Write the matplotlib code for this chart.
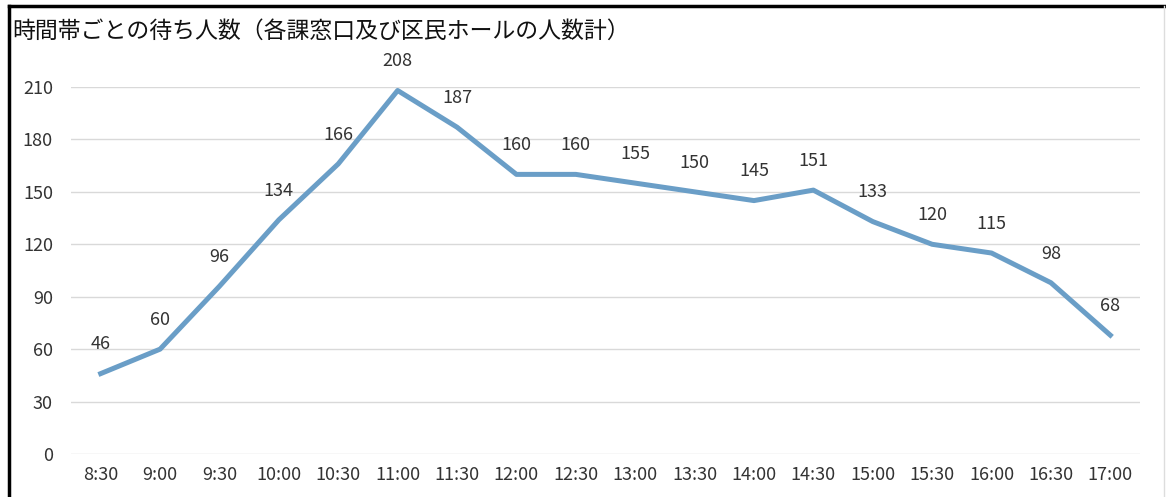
import matplotlib.pyplot as plt
from matplotlib.lines import Line2D

plt.rcParams["font.family"] = ["Noto Sans CJK JP", "DejaVu Sans"]

TITLE = "時間帯ごとの待ち人数（各課窓口及び区民ホールの人数計）"
times = ["8:30", "9:00", "9:30", "10:00", "10:30", "11:00", "11:30", "12:00", "12:30",
         "13:00", "13:30", "14:00", "14:30", "15:00", "15:30", "16:00", "16:30", "17:00"]
counts = [46, 60, 96, 134, 166, 208, 187, 160, 160, 155, 150, 145, 151, 133, 120, 115, 98, 68]
yticks = [0, 30, 60, 90, 120, 150, 180, 210]

W, H = 1166, 497
fig = plt.figure(figsize=(W / 100, H / 100), dpi=100)
ax = fig.add_axes([71 / W, 1 - 454 / H, (1140 - 71) / W, (454 - 87) / H])

x = list(range(len(times)))
ax.plot(x, counts, color="#6a9ec7", linewidth=3.6, solid_joinstyle="round", zorder=3)

for xi, v in zip(x, counts):
    ax.annotate(str(v), (xi, v), xytext=(0, 21), textcoords="offset points",
                ha="center", va="center", fontsize=13, color="#333333", zorder=2)

ax.set_xlim(-0.5, len(times) - 0.5)
ax.set_ylim(0, 210)
ax.set_yticks(yticks)
ax.set_xticks(x)
ax.set_xticklabels(times)
ax.tick_params(axis="both", length=0, labelsize=13, colors="#333333")
ax.tick_params(axis="y", pad=13)
ax.tick_params(axis="x", pad=9)
ax.grid(axis="y", color="#d9d9d9", linewidth=1)
ax.set_axisbelow(True)
for s in ax.spines.values():
    s.set_visible(False)

fig.text(12 / W, 1 - 31 / H, TITLE, fontsize=16.5, color="#111111", ha="left", va="center")

# black frame around the picture
fig.add_artist(Line2D([9 / W, 9 / W], [0, 1 - 6 / H], color="black", linewidth=2.5))
fig.add_artist(Line2D([9 / W, 1], [1 - 6 / H, 1 - 6 / H], color="black", linewidth=2.5))
fig.add_artist(Line2D([1164 / W, 1164 / W], [0, 1 - 6 / H], color="#dddddd", linewidth=1))

fig.savefig("out.png", dpi=100)
